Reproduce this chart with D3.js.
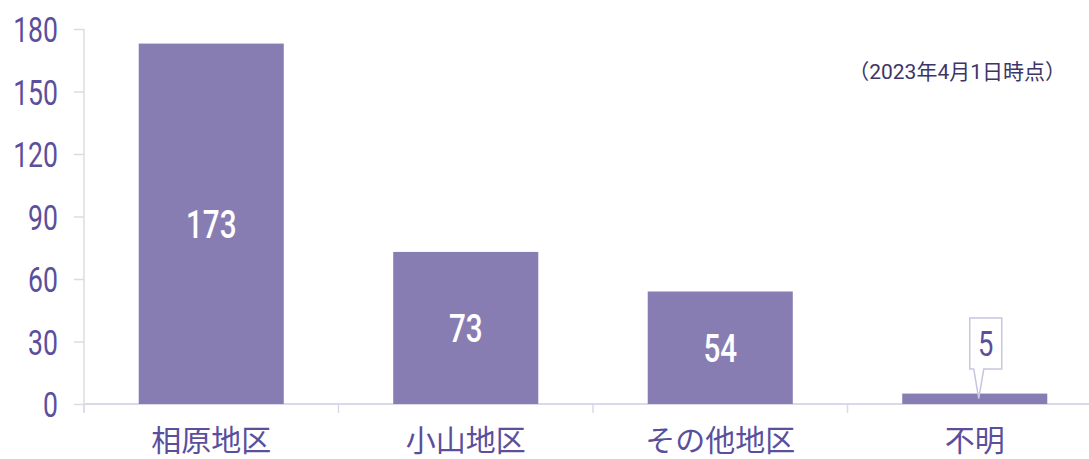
<!DOCTYPE html>
<html>
<head>
<meta charset="utf-8">
<script src="https://cdn.jsdelivr.net/npm/d3@7"></script>
<style>
  body { margin: 0; background: #fff; }
  svg { display: block; }
  .num { font-family: Roboto, sans-serif; }
  .cjk { font-family: "Noto Sans CJK JP", sans-serif; }
</style>
</head>
<body>
<div id="chart"></div>
<script>
// Data
var categories   =   ['相原地区', '小山地区', 'その他地区', '不明'];
var counts       =   [173, 73, 54, 5];
var y_ticks      =   [0, 30, 60, 90, 120, 150, 180];
var note_text    =   '（2023年4月1日時点）';

var chart_width  =   1089;
var chart_height =   459;
var bar_color    =   '#877db3';
var text_color   =   '#5b4f9c';
var squeeze      =   0.76;   // narrow digits, like a condensed face

// Scales
var x_scale      =   d3.scaleBand()
    .domain( categories )
    .range( [84, 1102] )
    .paddingInner( 0.43 )
    .paddingOuter( 0.215 );

var y_scale      =   d3.scaleLinear()
    .domain( [0, 180] )
    .range( [404, 29] );

var svg          =   d3.select('#chart')
    .append('svg')
    .attr('width', chart_width)
    .attr('height', chart_height);

// squeeze a text horizontally around its own x
function narrow(sel, x) {
    sel.attr('x', x / squeeze).attr('transform', 'scale(' + squeeze + ',1)');
}

// Y axis
var y_axis = svg.append('g')
    .attr('transform', 'translate(84,0)')
    .call( d3.axisLeft(y_scale).tickValues(y_ticks).tickSize(10).tickPadding(16) );
y_axis.select('.domain').remove();
y_axis.selectAll('line').attr('stroke', '#dcdcdc').attr('stroke-width', 1.5);
y_axis.append('line')
    .attr('x1', 0).attr('x2', 0)
    .attr('y1', y_scale(180)).attr('y2', 413)
    .attr('stroke', '#dcdcdc').attr('stroke-width', 1.5);
y_axis.selectAll('.tick text')
    .attr('class', 'num')
    .style('font-size', '35px')
    .attr('fill', text_color)
    .attr('dy', '0.36em')
    .call(narrow, -26);

// X axis
var band_edges = categories.map(function(c){ return x_scale(c) - x_scale.step() * x_scale.paddingInner() / 2; });
var x_axis = svg.append('g');
x_axis.append('line')
    .attr('x1', 84).attr('x2', chart_width)
    .attr('y1', 404).attr('y2', 404)
    .attr('stroke', '#dcd8ea').attr('stroke-width', 2);
x_axis.selectAll('.xtick')
    .data( band_edges )
    .enter()
    .append('line')
    .attr('x1', function(d){ return d; })
    .attr('x2', function(d){ return d; })
    .attr('y1', 404).attr('y2', 413)
    .attr('stroke', '#dcd8ea').attr('stroke-width', 1.5);
x_axis.selectAll('.xlabel')
    .data( categories )
    .enter()
    .append('text')
    .attr('class', 'cjk')
    .attr('x', function(d){ return x_scale(d) + x_scale.bandwidth() / 2; })
    .attr('y', 451)
    .style('text-anchor', 'middle')
    .style('font-size', '30px')
    .attr('fill', text_color)
    .text(function(d){ return d; });

// Bars
svg.selectAll('.bar')
    .data( counts )
    .enter()
    .append('rect')
    .attr('x', function(d, i){ return x_scale(categories[i]); })
    .attr('y', function(d){ return y_scale(d); })
    .attr('width', x_scale.bandwidth())
    .attr('height', function(d){ return y_scale(0) - y_scale(d); })
    .attr('fill', bar_color);

// Labels inside the big bars
svg.selectAll('.val')
    .data( counts.filter(function(d){ return d > 20; }) )
    .enter()
    .append('text')
    .attr('class', 'num')
    .attr('y', function(d){ return (y_scale(d) + y_scale(0)) / 2; })
    .attr('dy', '0.36em')
    .style('text-anchor', 'middle')
    .style('font-size', '39px')
    .style('font-weight', 500)
    .attr('fill', '#ffffff')
    .text(function(d){ return d; })
    .each(function(d, i){
        d3.select(this).call(narrow, x_scale(categories[i]) + x_scale.bandwidth() / 2);
    });

// Callout for the small bar
var last = categories.length - 1;
var tip_x = x_scale(categories[last]) + x_scale.bandwidth() / 2 + 4;
var tip_y = y_scale(counts[last]) + 5;
var bx = tip_x - 9, by = 318, bw = 32, bh = 51;
svg.append('path')
    .attr('d', 'M' + bx + ',' + by + 'h' + bw + 'v' + bh + 'h' + (-(bw - 14)) +
               'L' + tip_x + ',' + tip_y + 'L' + (bx + 4) + ',' + (by + bh) + 'h-4Z')
    .attr('fill', '#ffffff')
    .attr('stroke', '#c9c4df')
    .attr('stroke-width', 1.5);
svg.append('text')
    .attr('class', 'num')
    .attr('y', by + bh / 2)
    .attr('dy', '0.36em')
    .style('text-anchor', 'middle')
    .style('font-size', '36px')
    .attr('fill', text_color)
    .text(counts[last])
    .call(narrow, bx + bw / 2);

// Note
svg.append('text')
    .attr('x', 1066)
    .attr('y', 79)
    .style('font-family', 'Roboto, "Noto Sans CJK JP", sans-serif')
    .style('text-anchor', 'end')
    .style('font-size', '21px')
    .attr('fill', '#3d3567')
    .text(note_text);
</script>
</body>
</html>
